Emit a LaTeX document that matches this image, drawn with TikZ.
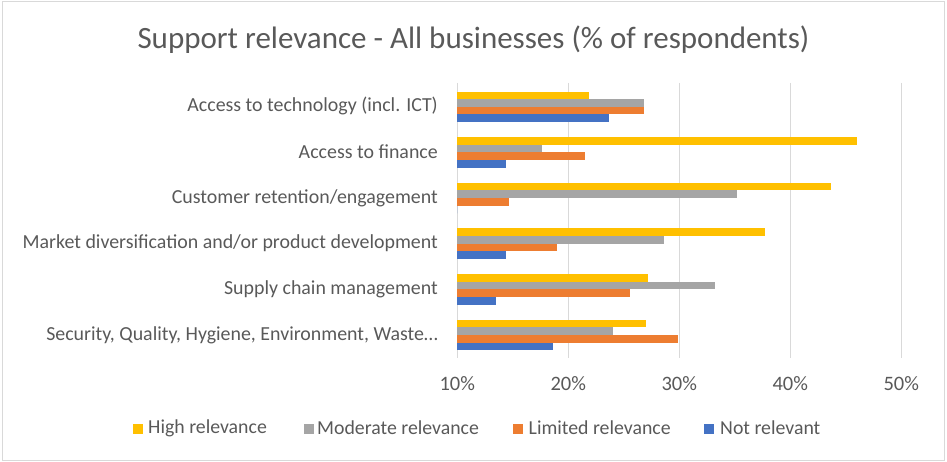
\documentclass[tikz,border=0pt]{standalone}
\usepackage{fontspec}
\setmainfont{Carlito}
\definecolor{cHigh}{HTML}{FFC000}
\definecolor{cMod}{HTML}{A5A5A5}
\definecolor{cLim}{HTML}{ED7D31}
\definecolor{cNot}{HTML}{4472C4}
\definecolor{txt}{HTML}{595959}
\definecolor{grid}{HTML}{D9D9D9}
\tikzset{
  catlabel/.style={anchor=east, text=txt, font=\fontsize{19.9}{23}\selectfont, inner sep=0pt},
  ticklabel/.style={anchor=center, text=txt, font=\fontsize{20.5}{24}\selectfont, inner sep=0pt},
  leglabel/.style={anchor=west, text=txt, font=\fontsize{19.8}{23}\selectfont, inner sep=0pt},
  gridline/.style={draw=grid, line width=1.3pt},
  legsq/.style={minimum width=10pt, minimum height=10pt, inner sep=0pt, anchor=center}
}
\begin{document}
\begin{tikzpicture}[x=1pt,y=-1pt]
\useasboundingbox (0,0) rectangle (947,462);
\draw[grid, line width=1pt] (2,2) rectangle (944,460);
% title
\node[text=txt, font=\fontsize{31}{36}\selectfont, inner sep=0pt] (title) at (473.5,40) {Support relevance - All businesses (\% of respondents)};
% gridlines and ticks
\foreach \v/\n in {10/a,20/b,30/c,40/d,50/e}{
  \draw[gridline] ({457.3+(\v-10)*11.1},83) -- ({457.3+(\v-10)*11.1},358);
  \node[ticklabel] (tick\n) at ({457.3+(\v-10)*11.1},384) {\v\%};
}
% bars: group index, H, M, L, N
\foreach \g/\h/\m/\l/\nn in {0/21.9/26.8/26.8/23.7, 1/46.0/17.6/21.5/14.4, 2/43.7/35.2/14.7/10, 3/37.7/28.6/19.0/14.4, 4/27.2/33.2/25.6/13.5, 5/27.0/24.0/29.9/18.6}{
  \pgfmathsetmacro{\yt}{91.7+45.6*\g}
  \fill[cHigh] (457.3,\yt) rectangle ({457.3+(\h-10)*11.1},\yt+7.6);
  \fill[cMod] (457.3,\yt+7.6) rectangle ({457.3+(\m-10)*11.1},\yt+15.2);
  \fill[cLim] (457.3,\yt+15.2) rectangle ({457.3+(\l-10)*11.1},\yt+22.8);
  \fill[cNot] (457.3,\yt+22.8) rectangle ({457.3+(\nn-10)*11.1},\yt+30.4);
}
% category labels
\node[catlabel] (c1) at (438,106) {Access to technology (incl. ICT)};
\node[catlabel] (c2) at (438,152) {Access to finance};
\node[catlabel] (c3) at (438,198) {Customer retention/engagement};
\node[catlabel] (c4) at (438,243) {Market diversification and/or product development};
\node[catlabel] (c5) at (438,289) {Supply chain management};
\node[catlabel] (c6) at (438,335) {Security, Quality, Hygiene, Environment, Waste\ldots};
% legend
\node[legsq, fill=cHigh] (s1) at (137.7,428.5) {};
\node[leglabel] (l1) at (148,428) {High relevance};
\node[legsq, fill=cMod] (s2) at (308.7,428.5) {};
\node[leglabel] (l2) at (317,428) {Moderate relevance};
\node[legsq, fill=cLim] (s3) at (518,428.5) {};
\node[leglabel] (l3) at (528.5,428) {Limited relevance};
\node[legsq, fill=cNot] (s4) at (709,428.5) {};
\node[leglabel] (l4) at (720,428) {Not relevant};
\end{tikzpicture}
\end{document}
